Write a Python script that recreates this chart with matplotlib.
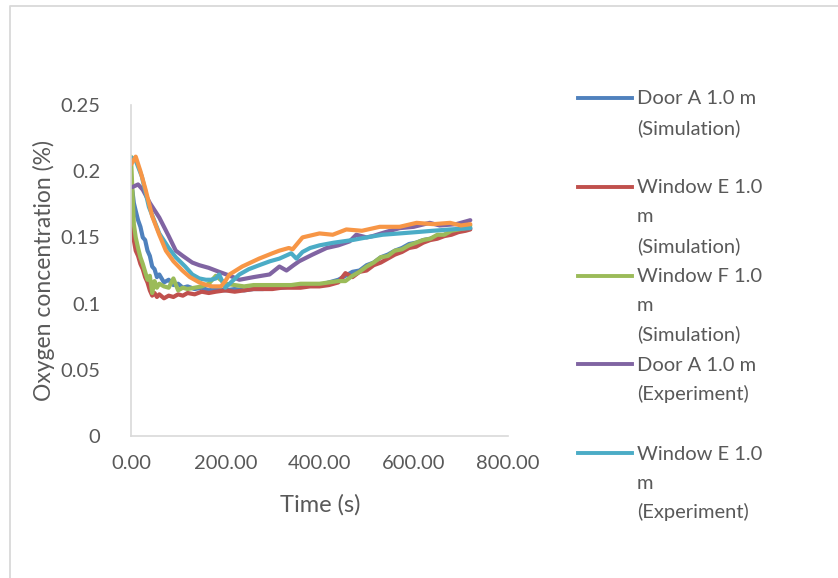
import matplotlib
matplotlib.use("Agg")
import matplotlib.pyplot as plt
from matplotlib.lines import Line2D

# ---- data ----
t_sim = [0, 3, 6, 10, 15, 20, 25, 30, 35, 40, 45, 50, 55, 60, 70, 80, 90,
         100, 110, 120, 135, 150, 165, 180, 200, 220, 240, 260, 280, 300,
         320, 340, 360, 380, 400, 420, 440, 455, 470, 485, 500, 515, 530,
         545, 560, 575, 590, 605, 620, 635, 650, 665, 680, 695, 710, 720]
door_a_sim = [0.190, 0.185, 0.176, 0.170, 0.163, 0.158, 0.150, 0.148, 0.140,
              0.136, 0.128, 0.126, 0.120, 0.122, 0.116, 0.118, 0.114, 0.115,
              0.112, 0.113, 0.111, 0.112, 0.110, 0.111, 0.110, 0.111, 0.110,
              0.111, 0.111, 0.112, 0.112, 0.113, 0.113, 0.114, 0.114, 0.116,
              0.118, 0.121, 0.124, 0.125, 0.129, 0.131, 0.135, 0.137, 0.140,
              0.142, 0.145, 0.146, 0.148, 0.149, 0.151, 0.152, 0.154, 0.155,
              0.156, 0.157]
window_e_sim = [0.186, 0.165, 0.148, 0.140, 0.136, 0.130, 0.126, 0.120,
                0.116, 0.110, 0.106, 0.108, 0.105, 0.107, 0.104, 0.106,
                0.105, 0.107, 0.106, 0.108, 0.107, 0.109, 0.108, 0.109,
                0.110, 0.109, 0.110, 0.111, 0.111, 0.111, 0.112, 0.112,
                0.112, 0.113, 0.113, 0.114, 0.116, 0.123, 0.120, 0.124,
                0.125, 0.129, 0.131, 0.134, 0.137, 0.139, 0.142, 0.143,
                0.146, 0.148, 0.149, 0.151, 0.152, 0.154, 0.155, 0.156]
window_f_sim = [0.211, 0.185, 0.160, 0.150, 0.142, 0.135, 0.130, 0.124,
                0.118, 0.121, 0.108, 0.117, 0.112, 0.115, 0.113, 0.112,
                0.119, 0.110, 0.112, 0.111, 0.112, 0.113, 0.115, 0.121,
                0.115, 0.114, 0.113, 0.114, 0.114, 0.114, 0.114, 0.114,
                0.115, 0.115, 0.115, 0.116, 0.117, 0.117, 0.121, 0.124,
                0.128, 0.131, 0.135, 0.136, 0.140, 0.141, 0.144, 0.146,
                0.148, 0.149, 0.152, 0.152, 0.155, 0.156, 0.157, 0.159]

t_door_a_exp = [3, 15, 25, 40, 60, 80, 95, 110, 130, 145, 165, 187, 210,
                230, 260, 294, 315, 330, 345, 357, 385, 415, 440, 464, 478,
                500, 513, 540, 570, 600, 634, 655, 690, 720]
door_a_exp = [0.188, 0.190, 0.186, 0.176, 0.165, 0.151, 0.140, 0.136, 0.131,
              0.129, 0.127, 0.124, 0.121, 0.118, 0.120, 0.122, 0.128, 0.125,
              0.129, 0.132, 0.137, 0.142, 0.144, 0.147, 0.152, 0.150, 0.151,
              0.154, 0.157, 0.158, 0.161, 0.159, 0.160, 0.163]

t_window_e_exp = [3, 10, 23, 38, 60, 80, 95, 115, 130, 145, 159, 170, 180,
                  187, 200, 215, 230, 250, 272, 295, 315, 340, 351, 364,
                  380, 400, 430, 470, 500, 534, 570, 606, 640, 677, 720]
window_e_exp = [0.210, 0.208, 0.196, 0.173, 0.153, 0.142, 0.135, 0.128, 0.122,
                0.119, 0.118, 0.118, 0.119, 0.122, 0.112, 0.117, 0.122, 0.126,
                0.129, 0.132, 0.134, 0.138, 0.134, 0.139, 0.142, 0.144, 0.146,
                0.148, 0.150, 0.152, 0.153, 0.154, 0.155, 0.156, 0.157]

t_window_f_exp = [0, 10, 20, 31, 45, 60, 74, 90, 109, 125, 145, 160, 172,
                  191, 200, 209, 236, 272, 300, 315, 335, 343, 364, 400, 428,
                  457, 490, 528, 570, 606, 641, 677, 700, 720]
window_f_exp = [0.205, 0.211, 0.200, 0.186, 0.166, 0.152, 0.140, 0.132, 0.125,
                0.120, 0.116, 0.114, 0.113, 0.113, 0.117, 0.122, 0.128, 0.134,
                0.138, 0.140, 0.142, 0.141, 0.150, 0.153, 0.152, 0.156, 0.155,
                0.158, 0.158, 0.161, 0.160, 0.161, 0.159, 0.160]

legend_labels = [
    ["Door A 1.0 m", "(Simulation)"],
    ["Window E 1.0", "m", "(Simulation)"],
    ["Window F 1.0", "m", "(Simulation)"],
    ["Door A 1.0 m", "(Experiment)"],
    ["Window E 1.0", "m", "(Experiment)"],
]

x_ticks = [0, 200, 400, 600, 800]
y_ticks = [0, 0.05, 0.1, 0.15, 0.2, 0.25]
y_tick_labels = ["0", "0.05", "0.1", "0.15", "0.2", "0.25"]

colors = ["#4F81BD", "#C0504D", "#9BBB59", "#8064A2", "#4BACC6", "#F79646"]
text_grey = "#595959"
FONT = "Lato"

W, H = 838, 578
fig = plt.figure(figsize=(W / 100, H / 100), dpi=100)
ax = fig.add_axes([131 / W, 1 - 436 / H, (508 - 131) / W, (436 - 105) / H])

series = [
    (t_sim, door_a_sim), (t_sim, window_e_sim), (t_sim, window_f_sim),
    (t_door_a_exp, door_a_exp), (t_window_e_exp, window_e_exp),
    (t_window_f_exp, window_f_exp),
]
for (tt, yy), c in zip(series, colors):
    ax.plot(tt, yy, color=c, lw=3.0, solid_joinstyle="round",
            solid_capstyle="round")

ax.set_xlim(0, 800)
ax.set_ylim(0, 0.25)
ax.set_xticks(x_ticks)
ax.set_xticklabels([f"{v:.2f}" for v in x_ticks], fontsize=14.5,
                   color=text_grey, family=FONT)
ax.set_yticks(y_ticks)
ax.set_yticklabels(y_tick_labels, fontsize=14.5, color=text_grey, family=FONT)
ax.tick_params(length=0, pad=14)
ax.tick_params(axis="y", pad=22)
for s in ("top", "right"):
    ax.spines[s].set_visible(False)
for s in ("left", "bottom"):
    ax.spines[s].set_color("#D9D9D9")
    ax.spines[s].set_linewidth(1.2)

fig.text(320 / W, 1 - 505 / H, "Time (s)", ha="center", va="center",
         fontsize=17, color=text_grey, family=FONT)
fig.text(44 / W, 1 - 270 / H, "Oxygen concentration (%)", ha="center",
         va="center", rotation=90, fontsize=16.5, color=text_grey, family=FONT)

# legend drawn by hand (Excel-like, last entry clipped)
for i, lines in enumerate(legend_labels):
    y0 = 98 + 88.8 * i
    fig.add_artist(Line2D([578 / W, 632 / W], [1 - y0 / H, 1 - y0 / H],
                          color=colors[i], lw=2.8, transform=fig.transFigure))
    for j, txt in enumerate(lines):
        fig.text(637 / W, 1 - (y0 + 1 + 29 * j) / H, txt, ha="left",
                 va="center", fontsize=14.5, color=text_grey, family=FONT)

# chart-area border
fig.add_artist(Line2D([10 / W, 10 / W, 1.0], [0.0, 1 - 6 / H, 1 - 6 / H],
                      color="#D9D9D9", lw=1.3, transform=fig.transFigure))

fig.savefig("out.png", dpi=100)
